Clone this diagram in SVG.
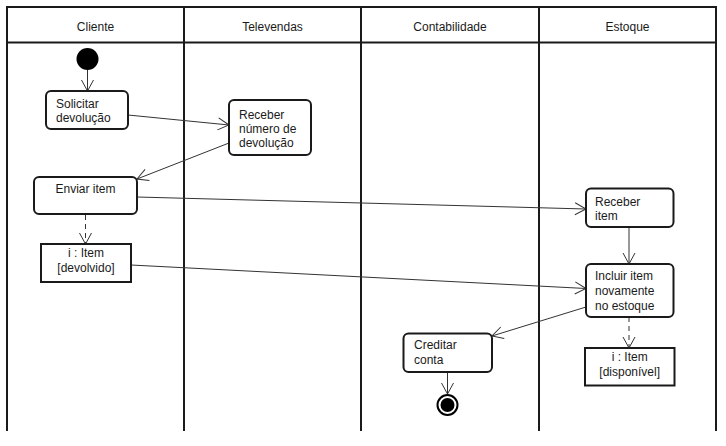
<svg xmlns="http://www.w3.org/2000/svg" width="726" height="446" viewBox="0 0 726 446">
<style>
text{font-family:"Liberation Sans",Arial,sans-serif;font-size:12px;fill:#1a1a1a}
.lane{stroke:#1a1a1a;stroke-width:2;fill:none}
.act{fill:#fff;stroke:#1a1a1a;stroke-width:2}
.obj{fill:#fff;stroke:#1a1a1a;stroke-width:2}
.c{text-anchor:middle}
.flow{stroke:#333;stroke-width:1;fill:none;marker-end:url(#arr)}
.dash{stroke:#333;stroke-width:1;fill:none;stroke-dasharray:5,4;marker-end:url(#arr)}
</style>
<defs>
<marker id="arr" markerUnits="userSpaceOnUse" markerWidth="16" markerHeight="16" viewBox="-12 -8 14 16" refX="0" refY="0" orient="auto">
<path d="M-11,-6 L0,0 L-11,6" fill="none" stroke="#333" stroke-width="1"/>
</marker>
</defs>
<rect width="726" height="446" fill="#fff"/>
<g id="lanes">
<path class="lane" d="M7,431 V7 H716 V431 M184,7 V431 M361,7 V431 M539,7 V431 M7,42.5 H716"/>
<text class="c" x="95.5" y="31">Cliente</text>
<text class="c" x="272.5" y="31">Televendas</text>
<text class="c" x="450" y="31">Contabilidade</text>
<text class="c" x="627.5" y="31">Estoque</text>
</g>
<g id="connectors">
<line class="flow" x1="87.5" y1="70" x2="87.5" y2="91"/>
<line class="flow" x1="128" y1="115" x2="229" y2="125"/>
<line class="flow" x1="229" y1="143" x2="137" y2="179"/>
<line class="flow" x1="137" y1="197" x2="586" y2="209"/>
<line class="dash" x1="85.5" y1="215" x2="85.5" y2="244"/>
<line class="flow" x1="131" y1="265" x2="586" y2="288.5"/>
<line class="flow" x1="629" y1="227" x2="629" y2="264"/>
<line class="flow" x1="586" y1="307" x2="492" y2="336"/>
<line class="dash" x1="629" y1="317" x2="629" y2="348"/>
<line class="flow" x1="447.5" y1="372" x2="447.5" y2="394"/>
</g>
<g id="start"><circle cx="87.5" cy="59" r="11" fill="#000"/></g>
<g id="solicitar">
<rect class="act" x="46" y="91" width="82" height="38" rx="5"/>
<text x="56" y="108.3">Solicitar</text>
<text x="56" y="122.3">devolução</text>
</g>
<g id="receber-numero">
<rect class="act" x="229" y="100" width="82" height="55" rx="5"/>
<text x="239" y="119">Receber</text>
<text x="239" y="133">número de</text>
<text x="239" y="147">devolução</text>
</g>
<g id="enviar">
<rect class="act" x="34" y="177" width="103" height="37" rx="5"/>
<text class="c" x="85.5" y="193">Enviar item</text>
</g>
<g id="item-devolvido">
<rect class="obj" x="41" y="244" width="90" height="38"/>
<text class="c" x="86" y="257">i : Item</text>
<text class="c" x="86" y="272">[devolvido]</text>
</g>
<g id="receber-item">
<rect class="act" x="586" y="188.5" width="87.5" height="38.5" rx="5"/>
<text x="595" y="205.5">Receber</text>
<text x="595" y="220">item</text>
</g>
<g id="incluir">
<rect class="act" x="586" y="264" width="87.5" height="53" rx="5"/>
<text x="595" y="280">Incluir item</text>
<text x="595" y="295">novamente</text>
<text x="595" y="309.5">no estoque</text>
</g>
<g id="item-disponivel">
<rect class="obj" x="585" y="348" width="89.5" height="37.5"/>
<text class="c" x="629.7" y="361.3">i : Item</text>
<text class="c" x="629.7" y="376.3">[disponível]</text>
</g>
<g id="creditar">
<rect class="act" x="403.5" y="333.5" width="88.5" height="38.5" rx="5"/>
<text x="414" y="349.3">Creditar</text>
<text x="414" y="364.3">conta</text>
</g>
<g id="end">
<circle cx="447.5" cy="405" r="10" fill="#fff" stroke="#000" stroke-width="2"/>
<circle cx="447.5" cy="405" r="7" fill="#000"/>
</g>
</svg>
